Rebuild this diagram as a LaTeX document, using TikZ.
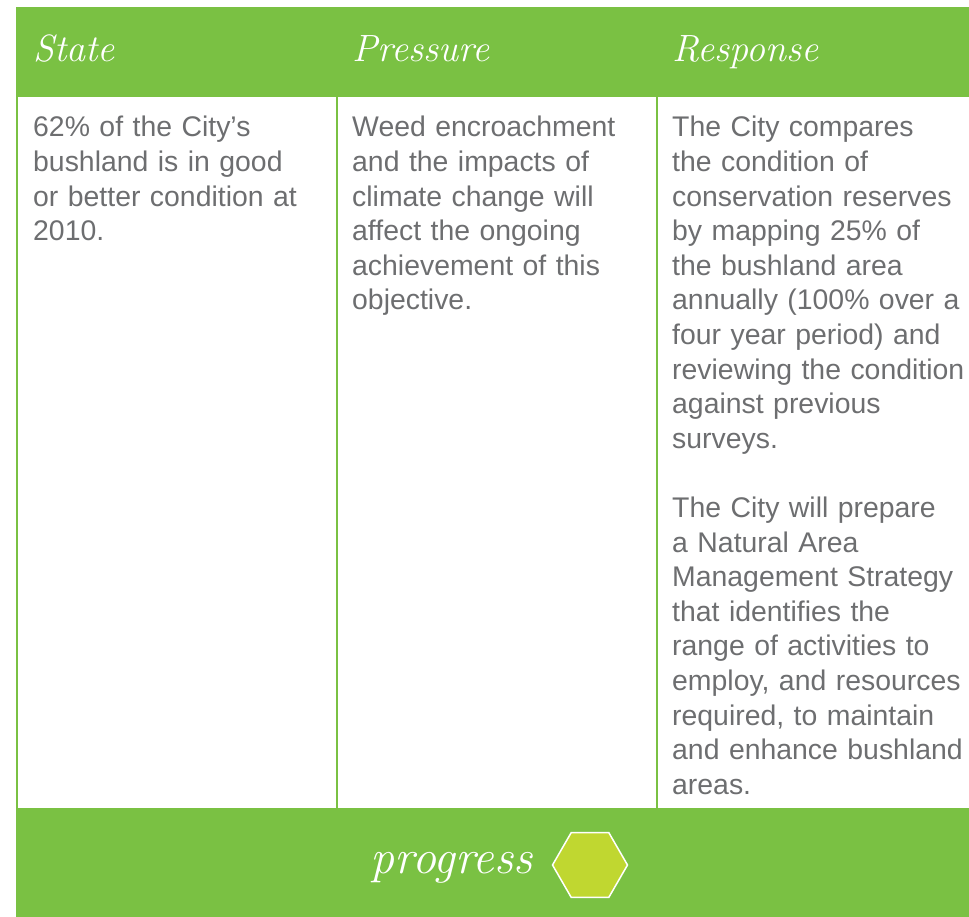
\documentclass[tikz,border=0pt]{standalone}
\usepackage{fontspec}
\newfontfamily\bodyfont{Liberation Sans}
\usepackage{tikz}
\usetikzlibrary{positioning, shapes.geometric}
\definecolor{leaf}{HTML}{7AC143}
\definecolor{lime}{HTML}{C0D730}
\definecolor{ink}{HTML}{6D6E70}

\begin{document}
\begin{tikzpicture}[x=1pt,y=-1pt,
  bar/.style={fill=leaf,anchor=north west,inner sep=0,minimum width=953pt},
  head/.style={anchor=base west,inner sep=0,text=white,font=\fontsize{38}{40}\selectfont\itshape},
  cell/.style={anchor=base west,inner sep=0,text=ink,text width=310pt,align=left,
    font=\bodyfont\fontsize{28.4}{34.6}\selectfont},
  rule/.style={leaf,line width=2pt}]
\useasboundingbox (0,0) rectangle (969,917);
% green bars
\node[bar,minimum height=90pt] (top) at (16,7) {};
\node[bar,minimum height=109pt] (foot) at (16,808) {};
% column rules
\draw[rule] ([xshift=1pt]top.south west) -- ([xshift=1pt]foot.north west);
\draw[rule] ([xshift=321pt]top.south west) -- ([xshift=321pt]foot.north west);
\draw[rule] ([xshift=641pt]top.south west) -- ([xshift=641pt]foot.north west);
% headings
\node[head] (state) at (33,62) {State};
\node[head] (pressure) at (352,62) {Pressure};
\node[head] (response) at (672,62) {Response};
% cells
\node[cell] (statetxt) at (33,137)
{62\% of the City’s\\ bushland is in good\\ or better condition at\\ 2010.};
\node[cell] (pressuretxt) at (352,137)
{Weed encroachment\\ and the impacts of\\ climate change will\\ affect the ongoing\\ achievement of this\\ objective.};
\node[cell] (responsetxt) at (672,137)
{The City compares\\ the condition of\\ conservation reserves\\ by mapping 25\% of\\ the bushland area\\
 annually (100\% over a\\ four year period) and\\ reviewing the condition\\ against previous\\ surveys.\\[34.6pt]
 The City will prepare\\ a Natural Area\\ Management Strategy\\ that identifies the\\ range of activities to\\
 employ, and resources\\ required, to maintain\\ and enhance bushland\\ areas.};
% progress
\node[anchor=base east,inner sep=0,text=white,font=\fontsize{48}{50}\selectfont\itshape] (progress) at (533,873) {progress};
\node[regular polygon,regular polygon sides=6,minimum size=75pt,inner sep=0,
  fill=lime,draw=white,line width=1.5pt] (hex) at (590,865) {};
\end{tikzpicture}
\end{document}
